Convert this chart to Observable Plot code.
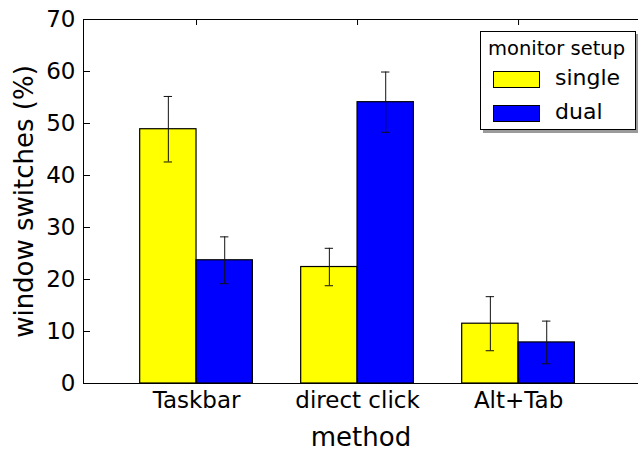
<!DOCTYPE html>
<html><head><meta charset="utf-8">
<script src="https://cdn.jsdelivr.net/npm/d3@7"></script>
<script src="https://cdn.jsdelivr.net/npm/@observablehq/plot@0.6"></script>
<style>
body{margin:0;background:#fff;font-family:"DejaVu Sans",sans-serif;color:#000}
#wrap{position:relative;width:638px;height:453px;overflow:hidden}
.legend{position:absolute;left:480px;top:31px;width:156px;height:99px;border:1px solid #000;background:#fff;box-shadow:3px 3px 0 #9a9a9a;box-sizing:border-box}
.legend .title{position:absolute;left:7px;top:6px;font-size:19.5px;line-height:22px;white-space:nowrap}
.legend .sw{position:absolute;left:12px;width:47px;height:17px;border:1px solid #000;box-sizing:border-box}
.legend .lab{position:absolute;left:74px;font-size:22px;line-height:24px;white-space:nowrap}
</style></head>
<body><div id="wrap"></div>
<script>
const methods = ["Taskbar", "direct click", "Alt+Tab"];
const setups = ["single", "dual"];
const setupColors = ["#ffff00", "#0000ff"];
const singleValues = [48.9, 22.4, 11.5];
const dualValues = [23.7, 54.1, 7.9];
const singleErrors = [6.3, 3.6, 5.2];
const dualErrors = [4.5, 5.8, 4.1];
const yTicks = [0, 10, 20, 30, 40, 50, 60, 70];
const legendTitle = "monitor setup";
const xLabel = "method";
const yLabel = "window switches (%)";

const barWidth = 0.35;
const capHalf = 0.026;
const values = [singleValues, dualValues];
const errors = [singleErrors, dualErrors];
const rows = methods.flatMap((m, i) => setups.map((s, j) => {
  const x1 = i + (j - 1) * barWidth;
  return {method: m, setup: s, x1, x2: x1 + barWidth, xc: x1 + barWidth / 2,
          value: values[j][i], lo: values[j][i] - errors[j][i], hi: values[j][i] + errors[j][i]};
}));
const caps = rows.flatMap(r => [r.lo, r.hi].map(y => ({y, x1: r.xc - capHalf, x2: r.xc + capHalf})));
const xTicks = methods.map((m, i) => i);

const chart = Plot.plot({
  width: 638, height: 453,
  marginLeft: 83, marginRight: 0, marginTop: 19, marginBottom: 70,
  style: {fontFamily: "DejaVu Sans, sans-serif", color: "#000", background: "#fff"},
  x: {type: "linear", domain: [-0.702, 2.745]},
  y: {domain: [0, 70]},
  color: {domain: setups, range: setupColors},
  marks: [
    Plot.rectY(rows, {x1: "x1", x2: "x2", y: "value", fill: "setup", stroke: "#000", strokeWidth: 1.2}),
    Plot.ruleX(rows, {x: "xc", y1: "lo", y2: "hi", stroke: "#111", strokeWidth: 1}),
    Plot.ruleY(caps, {y: "y", x1: "x1", x2: "x2", stroke: "#111", strokeWidth: 1}),
    Plot.frame({anchor: "left", stroke: "#000"}),
    Plot.frame({anchor: "top", stroke: "#000"}),
    Plot.frame({anchor: "bottom", stroke: "#000"}),
    Plot.axisY(yTicks, {anchor: "left", tickSize: -7, tickPadding: 15, fontSize: 23, label: null, tickFormat: d => String(d)}),
    Plot.axisY([], {anchor: "left", tickSize: 0, fontSize: 26, label: yLabel, labelAnchor: "center", labelArrow: "none", labelOffset: 69}),
    Plot.axisX(xTicks, {anchor: "bottom", tickSize: -5, tickPadding: 13, fontSize: 23, label: null, tickFormat: i => methods[i]}),
    Plot.axisX([], {anchor: "bottom", tickSize: 0, fontSize: 26, label: xLabel, labelAnchor: "center", labelArrow: "none", labelOffset: 62}),
    Plot.axisX(xTicks, {anchor: "top", tickSize: -5, text: null, label: null})
  ]
});
const wrap = document.getElementById("wrap");
wrap.appendChild(chart);

const legend = document.createElement("div");
legend.className = "legend";
const t = document.createElement("div");
t.className = "title"; t.textContent = legendTitle;
legend.appendChild(t);
setups.forEach((s, j) => {
  const sw = document.createElement("div");
  sw.className = "sw"; sw.style.background = setupColors[j];
  sw.style.top = (39 + j * 34) + "px";
  legend.appendChild(sw);
  const lab = document.createElement("div");
  lab.className = "lab"; lab.textContent = s;
  lab.style.top = (34 + j * 34) + "px";
  legend.appendChild(lab);
});
wrap.appendChild(legend);
</script>
</body></html>
